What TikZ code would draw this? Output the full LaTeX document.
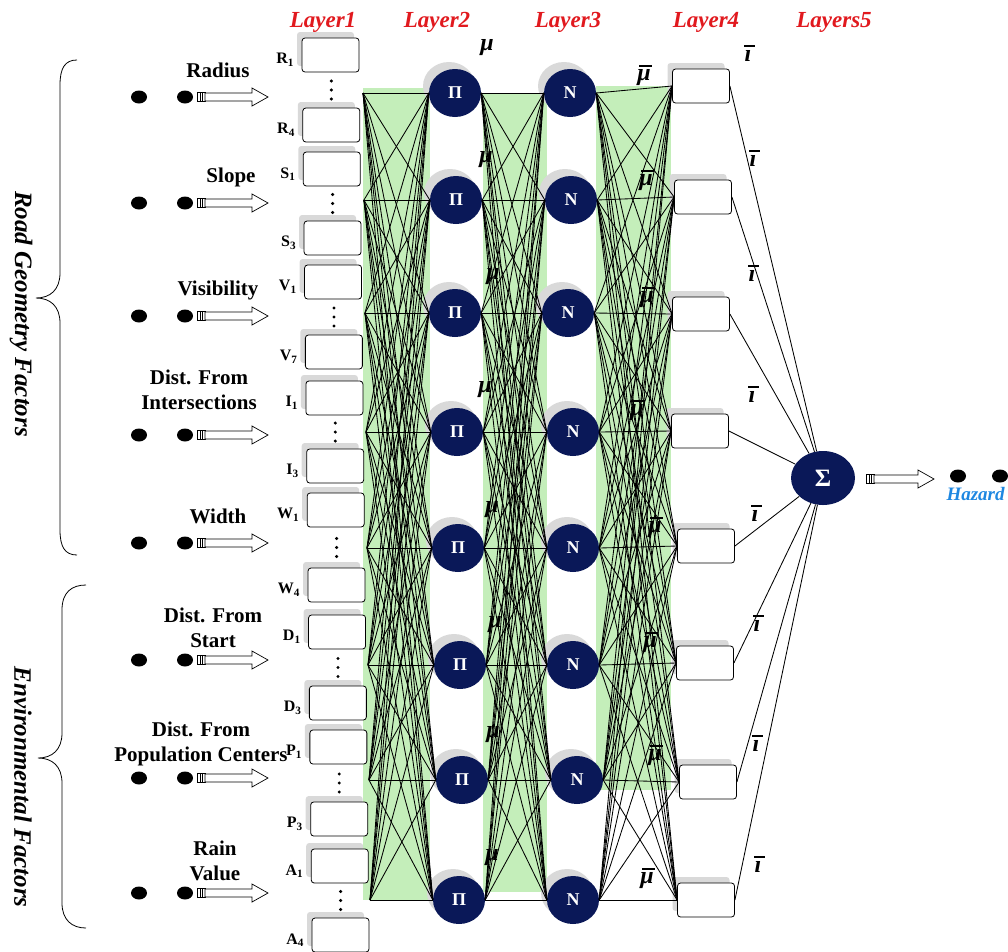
\documentclass[tikz,border=0pt]{standalone}
\usepackage{fontspec}
\setmainfont{Liberation Serif}
\usetikzlibrary{shapes.geometric,calc}
\definecolor{navy}{RGB}{10,24,88}
\definecolor{lgreen}{RGB}{196,238,186}
\definecolor{hdrred}{RGB}{225,25,30}
\definecolor{hzblue}{RGB}{30,135,225}
\begin{document}
\begin{tikzpicture}[x=1pt,y=-1pt,
  l1box/.style={draw=black, line width=0.8pt, rounded corners=3pt, fill=white, minimum width=57pt, minimum height=34pt, inner sep=0pt},
  shadowbox/.style={fill=black!15, rounded corners=3pt, minimum width=57pt, minimum height=34pt, inner sep=0pt},
  neuron/.style={ellipse, fill=navy, text=white, minimum width=52pt, minimum height=48pt, inner sep=0pt, font=\fontsize{18}{18}\selectfont\bfseries},
  shadowc/.style={ellipse, fill=black!15, minimum width=52pt, minimum height=48pt, inner sep=0pt},
  hdr/.style={text=hdrred, font=\fontsize{23}{23}\selectfont\bfseries\itshape},
  inlbl/.style={font=\fontsize{21}{25}\selectfont\bfseries, align=center},
  sublbl/.style={font=\fontsize{16}{16}\selectfont\bfseries, anchor=east},
  mulbl/.style={font=\fontsize{24}{24}\selectfont\bfseries\itshape},
  barlbl/.style={font=\fontsize{24}{24}\selectfont\bfseries\itshape, inner sep=0pt},
  bar/.style={line width=2pt},
  wire/.style={line width=0.85pt},
  dotn/.style={ellipse, fill=black, minimum width=16pt, minimum height=13pt, inner sep=0pt},
  side/.style={font=\fontsize{25}{25}\selectfont\bfseries\itshape, rotate=-90},
  hollow/.style={draw=black, line width=0.7pt, fill=white}
]
\useasboundingbox (0,0) rectangle (1008,951);

% ---------- green bands ----------
\fill[lgreen] (363,88) rectangle (430,900);
\fill[lgreen] (483,93) rectangle (547,892);
\fill[lgreen] (596,86) rectangle (671,790);

% ---------- headers ----------
\node[hdr] (h1) at (323,22) {Layer1};
\node[hdr] (h2) at (437,22) {Layer2};
\node[hdr] (h3) at (568,22) {Layer3};
\node[hdr] (h4) at (706,22) {Layer4};
\node[hdr] (h5) at (834,22) {Layers5};

% ---------- braces and side titles ----------
\draw[line width=0.8pt] (77,60) .. controls (65,60) and (60,68) .. (60,85) -- (60,273)
  .. controls (60,290) and (50,298) .. (36,298) .. controls (50,298) and (60,306) .. (60,323)
  -- (60,530) .. controls (60,547) and (65,555) .. (77,555);
\draw[line width=0.8pt] (86,585) .. controls (72,585) and (62,592) .. (62,610) -- (62,733)
  .. controls (62,750) and (52,758) .. (38,758) .. controls (52,758) and (62,766) .. (62,783)
  -- (62,903) .. controls (62,920) and (72,928) .. (86,928);
\node[side] (rgf) at (21,314) {Road Geometry Factors};
\node[side] (envf) at (23,787) {Environmental Factors};

% ---------- inputs ----------
\foreach \yy/\tx/\ty/\txt [count=\k] in {
  97/218/70/{Radius},
  203/231/177/{Slope},
  316/218/290/{Visibility},
  435/199/390/{Dist. From\\Intersections},
  543/218/516/{Width},
  660/213/628/{Dist. From\\Start},
  778/201/744/{Dist. From\\Population Centers},
  893/215/861/{Rain\\Value}}{
  \node[dotn] (ia\k) at (139,\yy) {};
  \node[dotn] (ib\k) at (185,\yy) {};
  \draw[hollow] (197,\yy-4.5) rectangle (205,\yy+4.5);
  \draw[line width=0.6pt] (200,\yy-4.5) -- (200,\yy+4.5) (202.5,\yy-4.5) -- (202.5,\yy+4.5);
  \draw[hollow] (205,\yy-4) -- (252,\yy-4) -- (252,\yy-9) -- (268,\yy) -- (252,\yy+9) -- (252,\yy+4) -- (205,\yy+4) -- cycle;
  \node[inlbl] (in\k) at (\tx,\ty) {\txt};
}

% ---------- layer 1 boxes ----------
\foreach \yy/\L/\s [count=\k] in {55/R/1,125/R/4,169/S/1,238/S/3,282/V/1,352/V/7,398/I/1,466/I/3,510/W/1,585/W/4,632/D/1,703/D/3,747/P/1,819/P/3,866/A/1,935/A/4}{
  \pgfmathsetmacro\xx{330.5+(\yy-55)*10/880}
  \node[shadowbox] at (\xx-5,\yy-6) {};
  \node[l1box] (b\k) at (\xx,\yy) {};
  \node[sublbl] (bl\k) at ([xshift=-4pt,yshift=-5pt]b\k.west) {\L\textsubscript{\s}};
}
\foreach \ya/\yb in {55/125,169/238,282/352,398/466,510/585,632/703,747/819,866/935}{
  \pgfmathsetmacro\xm{331+((\ya+\yb)/2-55)*10/880}
  \pgfmathsetmacro\ym{(\ya+\yb)/2}
  \foreach \d in {-9,0,9}{\fill (\xm,\ym+\d) circle (1.7pt);}
}

% ---------- layer 2, 3, 4 ----------
\foreach \yy/\xb/\xc/\xd/\yd [count=\k] in {
  93/455/570/701/86, 200/456/571/703/197, 313/455/568/701/314, 432/457/573/700/431,
  548/458/573/706/546, 665/460/573/705/663, 780/462/577/708/782, 900/459/573/706/900}{
  \pgfmathsetmacro\xp{363+(\yy-93)*7/807}
  \coordinate (p\k) at (\xp,\yy);
  \node[shadowc] at (\xb-6,\yy-7) {};
  \node[neuron] (c\k) at (\xb,\yy) {Π};
  \node[shadowc] at (\xc-6,\yy-7) {};
  \node[neuron] (n\k) at (\xc,\yy) {N};
  \node[shadowbox] at (\xd-5,\yd-6) {};
  \node[l1box] (d\k) at (\xd,\yd) {};
}

% ---------- connections ----------
\foreach \i in {1,...,8}{
  \foreach \j in {1,...,8}{
    \draw[wire] (p\i) -- (c\j.west);
    \draw[wire] (c\i.east) -- (n\j.west);
    \draw[wire] (n\i.east) -- (d\j.west);
  }
}

% ---------- layer 5 ----------
\node[ellipse, fill=navy, text=white, minimum width=64pt, minimum height=54pt, inner sep=0pt,
  font=\fontsize{25}{25}\selectfont\bfseries] (s) at (823,478) {Σ};
\foreach \i in {1,...,8}{ \draw[wire] (d\i.east) -- (s); }

% ---------- output ----------
\draw[hollow] (866,474.5) rectangle (874,483.5);
\draw[line width=0.6pt] (869,474.5) -- (869,483.5) (871.5,474.5) -- (871.5,483.5);
\draw[hollow] (874,475) -- (918,475) -- (918,470) -- (934,479) -- (918,488) -- (918,483) -- (874,483) -- cycle;
\node[dotn] (o1) at (958,476) {};
\node[dotn] (o2) at (1000,476) {};
\node[anchor=west, text=hzblue, font=\fontsize{19}{19}\selectfont\bfseries\itshape] (hz) at (943,494) {Hazard};

% ---------- mu labels ----------
\foreach \x/\y [count=\k] in {487/48,486/160,493/277,485/390,492/510,495/625,493/735,492/858}{
  \node[mulbl] (mu\k) at (\x,\y) {μ};
}
\foreach \x/\y [count=\k] in {644/78,646/183,647/300,637/413,655/530,650/645,655/758,647/881}{
  \node[barlbl] (mb\k) at (\x,\y) {μ};
  \draw[bar] ($(mb\k.north west)+(2,-4)$) -- ($(mb\k.north east)+(1,-4)$);
}
\foreach \x/\y [count=\k] in {748/56,753/161,752/276,752/397,755/516,757/626,756/746,758/867}{
  \node[barlbl] (ib\k) at (\x,\y) {ı};
  \draw[bar] ($(ib\k.north west)+(0,-4)$) -- ($(ib\k.north east)+(3,-4)$);
}
\end{tikzpicture}
\end{document}
